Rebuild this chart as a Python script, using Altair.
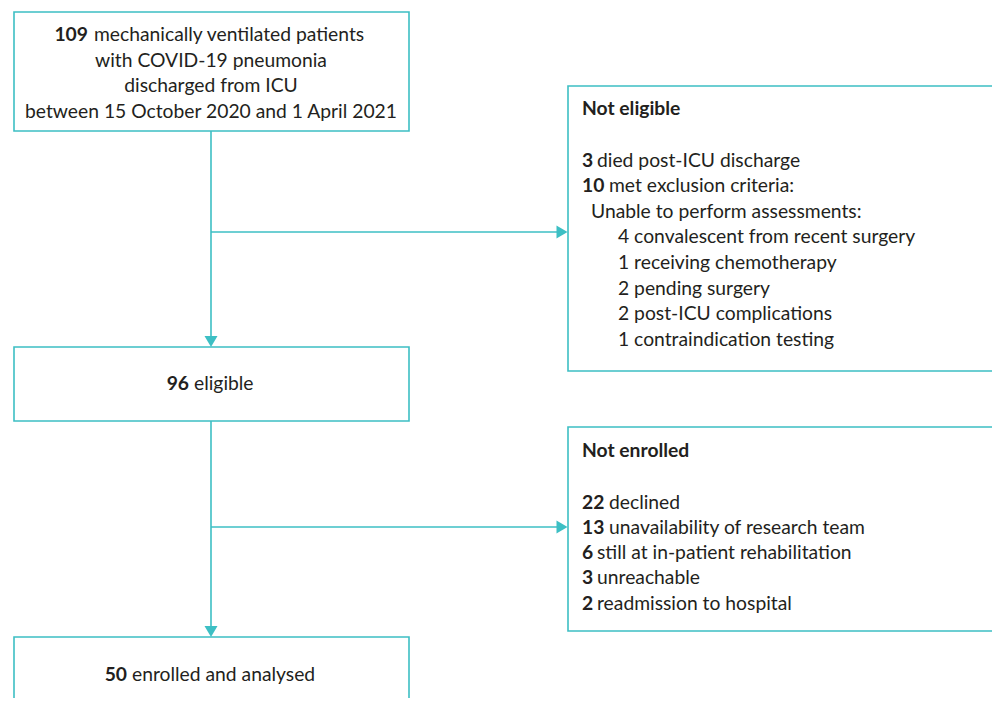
import altair as alt
import pandas as pd

# ---------------- data (text content) ----------------
box1_bold = "109"
box1_lines = ["mechanically ventilated patients", "with COVID-19 pneumonia",
              "discharged from ICU", "between 15 October 2020 and 1 April 2021"]
box2_bold = "96"
box2_text = "eligible"
box3_bold = "50"
box3_text = "enrolled and analysed"

excl_title = "Not eligible"
excl_counts = ["3", "10"]
excl_reasons = ["died post-ICU discharge", "met exclusion criteria:"]
excl_sub_header = "Unable to perform assessments:"
excl_sub_items = ["4 convalescent from recent surgery", "1 receiving chemotherapy",
                  "2 pending surgery", "2 post-ICU complications", "1 contraindication testing"]

enr_title = "Not enrolled"
enr_counts = ["22", "13", "6", "3", "2"]
enr_reasons = ["declined", "unavailability of research team", "still at in-patient rehabilitation",
               "unreachable", "readmission to hospital"]

# ---------------- layout (pixel coordinates of the page) ----------------
TEAL = "#3dbfc4"
INK = "#231f20"
FONT = "Lato"
FS = 19.3
LH = 25.6
W, H = 984, 690  # plot area; page offset 8px

boxes = pd.DataFrame([
    dict(x=14, x2=409, y=12, y2=131),
    dict(x=14, x2=409, y=347, y2=421),
    dict(x=14, x2=409, y=637, y2=760),
    dict(x=568, x2=1100, y=86, y2=371),
    dict(x=568, x2=1100, y=427, y2=631),
])
rules = pd.DataFrame([
    dict(x=211, x2=211, y=131, y2=338),
    dict(x=211, x2=211, y=421, y2=628),
    dict(x=211, x2=558, y=232, y2=232),
    dict(x=211, x2=558, y=527, y2=527),
])
heads_down = pd.DataFrame([dict(x=211, y=341.5), dict(x=211, y=631.5)])
heads_right = pd.DataFrame([dict(x=562, y=232), dict(x=562, y=527)])

rows_center, rows_left, rows_bold_left, rows_bold_right = [], [], [], []

# box 1
rows_bold_right.append(dict(x=88, y=41, t=box1_bold))
rows_left.append(dict(x=94, y=41, t=box1_lines[0]))
for i, s in enumerate(box1_lines[1:], start=1):
    rows_center.append(dict(x=211, y=41 + i * LH, t=s))
# box 2
rows_bold_right.append(dict(x=189, y=390, t=box2_bold))
rows_left.append(dict(x=194, y=390, t=box2_text))
# box 3
rows_bold_right.append(dict(x=127, y=681, t=box3_bold))
rows_left.append(dict(x=132, y=681, t=box3_text))

# exclusion box
rows_bold_left.append(dict(x=582, y=115, t=excl_title))
y0 = 166.5
for i, (c, r) in enumerate(zip(excl_counts, excl_reasons)):
    rows_bold_left.append(dict(x=582, y=y0 + i * LH, t=c))
    rows_left.append(dict(x=585 + 12 * len(c), y=y0 + i * LH, t=r))
rows_left.append(dict(x=591, y=y0 + 2 * LH, t=excl_sub_header))
for i, s in enumerate(excl_sub_items):
    rows_left.append(dict(x=618, y=y0 + (3 + i) * LH, t=s))

# not enrolled box
rows_bold_left.append(dict(x=582, y=457, t=enr_title))
y0 = 508.5
for i, (c, r) in enumerate(zip(enr_counts, enr_reasons)):
    rows_bold_left.append(dict(x=582, y=y0 + i * 25.3, t=c))
    rows_left.append(dict(x=585 + 12 * len(c), y=y0 + i * 25.3, t=r))

X = alt.Scale(domain=[8, 8 + W], range=[0, W])
Y = alt.Scale(domain=[8, 8 + H], range=[0, H])


def xe(f="x"):
    return alt.X(f"{f}:Q", scale=X, axis=None)


def ye(f="y"):
    return alt.Y(f"{f}:Q", scale=Y, axis=None)


rect = alt.Chart(boxes).mark_rect(fill="white", stroke=TEAL, strokeWidth=1.6, clip=False).encode(
    x=xe(), x2="x2:Q", y=ye(), y2="y2:Q")
rule = alt.Chart(rules).mark_rule(color=TEAL, strokeWidth=1.6).encode(
    x=xe(), x2="x2:Q", y=ye(), y2="y2:Q")
down = alt.Chart(heads_down).mark_point(
    shape="M-1,-0.85L1,-0.85L0,0.85Z", filled=True, color=TEAL, opacity=1, size=169).encode(x=xe(), y=ye())
right = alt.Chart(heads_right).mark_point(
    shape="M-0.85,-1L0.85,0L-0.85,1Z", filled=True, color=TEAL, opacity=1, size=169).encode(x=xe(), y=ye())


def txt(rows, align, weight):
    return alt.Chart(pd.DataFrame(rows)).mark_text(
        align=align, baseline="alphabetic", font=FONT, fontSize=FS, fontWeight=weight, color=INK
    ).encode(x=xe(), y=ye(), text="t:N")


chart = alt.layer(
    rect, rule, down, right,
    txt(rows_center, "center", "normal"),
    txt(rows_left, "left", "normal"),
    txt(rows_bold_left, "left", "bold"),
    txt(rows_bold_right, "right", "bold"),
).properties(width=W, height=H, padding=0, autosize="none").configure_view(stroke=None)

chart.save("out.html", embed_options={"renderer": "svg", "actions": False})
